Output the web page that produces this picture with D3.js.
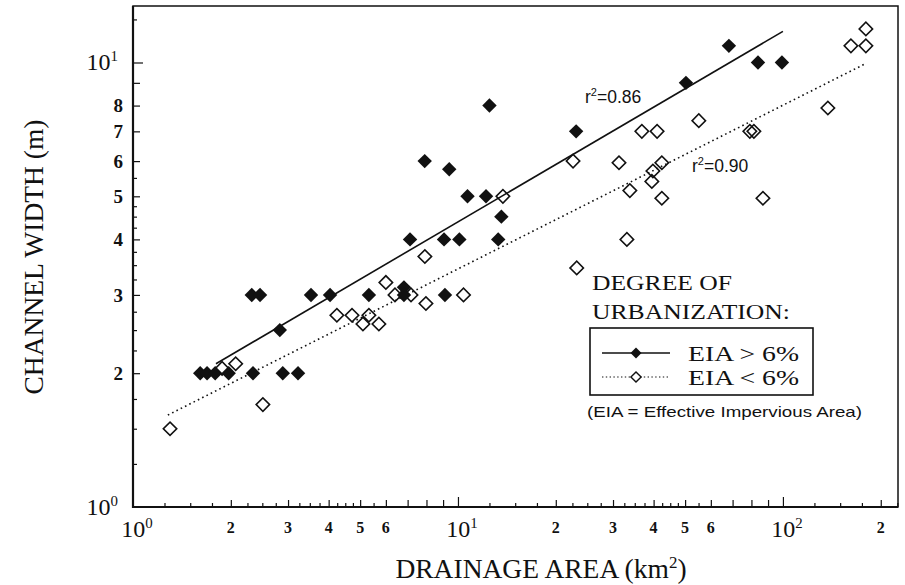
<!DOCTYPE html>
<html>
<head>
<meta charset="utf-8">
<script src="https://cdn.jsdelivr.net/npm/d3@7"></script>
<style>
  body { margin: 0; background: #fff; }
  text { fill: #111; }
</style>
</head>
<body>
<svg id="chart" width="905" height="585"></svg>
<script>
// Channel width (m) against drainage area (km²), split by effective impervious area.
// EIA > 6 %
const highArea  = [1.61, 1.69, 1.79, 1.97, 2.34, 2.89, 3.22, 2.32, 2.46, 2.83, 3.53, 4.04, 5.32, 6.82, 6.82, 9.12,
                   7.12, 9.06, 10.1, 13.3, 13.6, 10.7, 12.2, 7.9, 9.4, 12.5, 23.1, 50.3, 68.2, 83.8, 99.3];
const highWidth = [2.0, 2.0, 2.0, 2.0, 2.0, 2.0, 2.0, 3.0, 3.0, 2.5, 3.0, 3.0, 3.0, 3.12, 3.0, 3.0,
                   4.0, 4.0, 4.0, 4.0, 4.5, 5.0, 5.0, 6.0, 5.75, 8.0, 7.0, 9.0, 10.9, 10.0, 10.0];
// EIA < 6 %
const lowArea  = [1.30, 1.88, 2.07, 2.51, 4.24, 4.72, 5.32, 5.10, 5.71, 6.00, 6.40, 7.17, 7.97, 10.4, 7.91, 13.75,
                  22.6, 23.2, 36.8, 41.0, 55.1, 31.3, 42.4, 39.8, 39.5, 33.8, 42.4, 33.1, 79.1, 81.4, 137.5, 86.8,
                  161.9, 180.0, 180.0];
const lowWidth = [1.50, 2.05, 2.10, 1.70, 2.70, 2.70, 2.70, 2.58, 2.58, 3.20, 3.00, 3.00, 2.87, 3.00, 3.66, 5.00,
                  6.00, 3.45, 7.00, 7.00, 7.40, 5.95, 5.95, 5.70, 5.40, 5.15, 4.95, 4.00, 7.00, 7.00, 7.90, 4.95,
                  10.9, 10.9, 11.9];

// Power-law fits (end points of each fitted line)
const fitHighArea  = [1.8, 100];
const fitHighWidth = [2.10, 11.75];
const fitLowArea   = [1.28, 180];
const fitLowWidth  = [1.61, 9.95];
const fitLabels    = ["0.86", "0.90"];

// Axis ticks and labels
const xDecades      = [1, 10, 100];
const xDecadeExp    = ["0", "1", "2"];
const xDigitTicks   = [2, 3, 4, 5, 6, 20, 30, 40, 50, 60, 200];
const xDigitLabels  = ["2", "3", "4", "5", "6", "2", "3", "4", "5", "6", "2"];
const yDecades      = [1, 10];
const yDecadeExp    = ["0", "1"];
const yDigitTicks   = [2, 3, 4, 5, 6, 7, 8];
const yDigitLabels  = ["2", "3", "4", "5", "6", "7", "8"];
const minorSteps    = [1.25, 1.5, 1.75, 2, 2.25, 2.5, 2.75, 3, 3.25, 3.5, 3.75, 4, 4.25, 4.5, 4.75,
                       5, 5.5, 6, 7, 8, 9];

const legendTitle = ["DEGREE OF", "URBANIZATION:"];
const legendItems = ["EIA > 6%", "EIA < 6%"];
const legendNote  = "(EIA = Effective Impervious Area)";

const SERIF = "'Liberation Serif', 'Times New Roman', serif";
const SANS  = "'Liberation Sans', Arial, sans-serif";

const svg = d3.select("#chart");
const plot = { left: 133, right: 898, top: 6, bottom: 507 };

const x = d3.scaleLog().domain([1, 226]).range([plot.left, plot.right]);
const y = d3.scaleLog().domain([1, 13.4]).range([plot.bottom, plot.top]);

// ---- tick marks (pointing into the plot) ----
function tickSet(domainMax) {
  const all = [];
  [1, 10, 100].forEach(d => minorSteps.forEach(m => {
    const v = d * m;
    if (v <= domainMax) all.push(v);
  }));
  return all;
}
const xMinor = tickSet(226);
const yMinor = tickSet(13.4);
const isWhole = v => Math.abs(v / Math.pow(10, Math.floor(Math.log10(v) + 1e-9)) % 1) < 1e-9;

function drawAxis(gen, scale, vals, len, transform) {
  const g = svg.append("g")
    .attr("transform", transform)
    .call(gen(scale).tickValues(vals).tickSize(-len).tickFormat(""));
  g.select(".domain").remove();
  g.selectAll(".tick line").attr("stroke", "#111").attr("stroke-width", 1.2);
}
drawAxis(d3.axisBottom, x, [10, 100], 10, `translate(0,${plot.bottom})`);
drawAxis(d3.axisBottom, x, xMinor.filter(isWhole), 7, `translate(0,${plot.bottom})`);
drawAxis(d3.axisBottom, x, xMinor.filter(v => !isWhole(v)), 4, `translate(0,${plot.bottom})`);
drawAxis(d3.axisLeft, y, [10], 10, `translate(${plot.left},0)`);
drawAxis(d3.axisLeft, y, yMinor.filter(isWhole), 7, `translate(${plot.left},0)`);
drawAxis(d3.axisLeft, y, yMinor.filter(v => !isWhole(v)), 4, `translate(${plot.left},0)`);

// ---- frame ----
svg.append("rect")
  .attr("x", plot.left).attr("y", plot.top)
  .attr("width", plot.right - plot.left).attr("height", plot.bottom - plot.top)
  .attr("fill", "none").attr("stroke", "#111").attr("stroke-width", 1.5);
svg.append("path")
  .attr("d", `M${plot.left},${plot.top}V${plot.bottom}H${plot.right}`)
  .attr("fill", "none").attr("stroke", "#111").attr("stroke-width", 2.2);

// ---- tick labels ----
function decadeLabel(g, exp, size) {
  g.append("tspan").text("10");
  g.append("tspan").attr("font-size", size * 0.62).attr("dy", -size * 0.38).text(exp);
}
xDecades.forEach((v, i) => {
  const t = svg.append("text")
    .attr("x", x(v) + 4).attr("y", 537)
    .attr("text-anchor", "middle")
    .attr("font-family", SERIF).attr("font-size", 24);
  decadeLabel(t, xDecadeExp[i], 24);
});
xDigitTicks.forEach((v, i) => {
  svg.append("text")
    .attr("x", x(v)).attr("y", 533)
    .attr("text-anchor", "middle")
    .attr("font-family", SERIF).attr("font-size", 16).attr("font-weight", "bold")
    .text(xDigitLabels[i]);
});
yDecades.forEach((v, i) => {
  const t = svg.append("text")
    .attr("x", 118).attr("y", v === 1 ? 515 : y(v) + 8)
    .attr("text-anchor", "end")
    .attr("font-family", SERIF).attr("font-size", 24);
  decadeLabel(t, yDecadeExp[i], 24);
});
yDigitTicks.forEach((v, i) => {
  svg.append("text")
    .attr("x", 123).attr("y", y(v)).attr("dy", "0.35em")
    .attr("text-anchor", "end")
    .attr("font-family", SERIF).attr("font-size", 19).attr("font-weight", "bold")
    .text(yDigitLabels[i]);
});

// ---- axis titles ----
svg.append("text")
  .attr("transform", "translate(43,257) rotate(-90)")
  .attr("text-anchor", "middle")
  .attr("font-family", SERIF).attr("font-size", 27.5)
  .text("CHANNEL WIDTH (m)");
const xt = svg.append("text")
  .attr("x", 541).attr("y", 578)
  .attr("text-anchor", "middle")
  .attr("font-family", SERIF).attr("font-size", 27.5);
xt.append("tspan").text("DRAINAGE AREA (km");
xt.append("tspan").attr("font-size", 17).attr("dy", -10).text("2");
xt.append("tspan").attr("dy", 10).text(")");

// ---- fitted lines ----
const line = d3.line().x(d => x(d[0])).y(d => y(d[1]));
svg.append("path")
  .datum(d3.zip(fitHighArea, fitHighWidth))
  .attr("d", line).attr("fill", "none")
  .attr("stroke", "#111").attr("stroke-width", 1.6);
svg.append("path")
  .datum(d3.zip(fitLowArea, fitLowWidth))
  .attr("d", line).attr("fill", "none")
  .attr("stroke", "#111").attr("stroke-width", 1.6)
  .attr("stroke-dasharray", "1.6,3.2");

// ---- markers ----
const diamond = s => d3.symbol(d3.symbolSquare, s)();
svg.append("g").selectAll("path")
  .data(d3.zip(lowArea, lowWidth))
  .join("path")
  .attr("d", diamond(90))
  .attr("transform", d => `translate(${x(d[0])},${y(d[1])}) rotate(45)`)
  .attr("fill", "none").attr("stroke", "#111").attr("stroke-width", 1.6);
svg.append("g").selectAll("path")
  .data(d3.zip(highArea, highWidth))
  .join("path")
  .attr("d", diamond(104))
  .attr("transform", d => `translate(${x(d[0])},${y(d[1])}) rotate(45)`)
  .attr("fill", "#111");

// ---- r² annotations ----
[[585, 103], [692, 172]].forEach((p, i) => {
  const t = svg.append("text")
    .attr("x", p[0]).attr("y", p[1])
    .attr("font-family", SANS).attr("font-size", 17.5);
  t.append("tspan").text("r");
  t.append("tspan").attr("font-size", 11).attr("dy", -7).text("2");
  t.append("tspan").attr("dy", 7).text("=" + fitLabels[i]);
});

// ---- legend ----
const titleLengths = [140, 198];
legendTitle.forEach((s, i) => {
  svg.append("text")
    .attr("x", 592).attr("y", 290 + i * 29)
    .attr("font-family", SERIF).attr("font-size", 22)
    .attr("textLength", titleLengths[i]).attr("lengthAdjust", "spacingAndGlyphs")
    .text(s);
});
svg.append("rect")
  .attr("x", 590).attr("y", 328).attr("width", 223).attr("height", 67)
  .attr("fill", "#fff").attr("stroke", "#111").attr("stroke-width", 1.6);
legendItems.forEach((s, i) => {
  const ly = 353 + i * 24;
  svg.append("line")
    .attr("x1", 602).attr("x2", 670).attr("y1", ly).attr("y2", ly)
    .attr("stroke", "#111").attr("stroke-width", i === 0 ? 1.5 : 1.2)
    .attr("stroke-dasharray", i === 0 ? null : "1.4,2.4");
  svg.append("path")
    .attr("d", diamond(i === 0 ? 60 : 52))
    .attr("transform", `translate(636,${ly}) rotate(45)`)
    .attr("fill", i === 0 ? "#111" : "#fff")
    .attr("stroke", "#111").attr("stroke-width", i === 0 ? 0 : 1.4);
  svg.append("text")
    .attr("x", 688).attr("y", ly + 8)
    .attr("font-family", SERIF).attr("font-size", 20.5)
    .attr("textLength", 111).attr("lengthAdjust", "spacingAndGlyphs")
    .text(s);
});
svg.append("text")
  .attr("x", 587).attr("y", 417)
  .attr("font-family", SANS).attr("font-size", 14.5)
  .attr("textLength", 275).attr("lengthAdjust", "spacingAndGlyphs")
  .text(legendNote);
</script>
</body>
</html>
